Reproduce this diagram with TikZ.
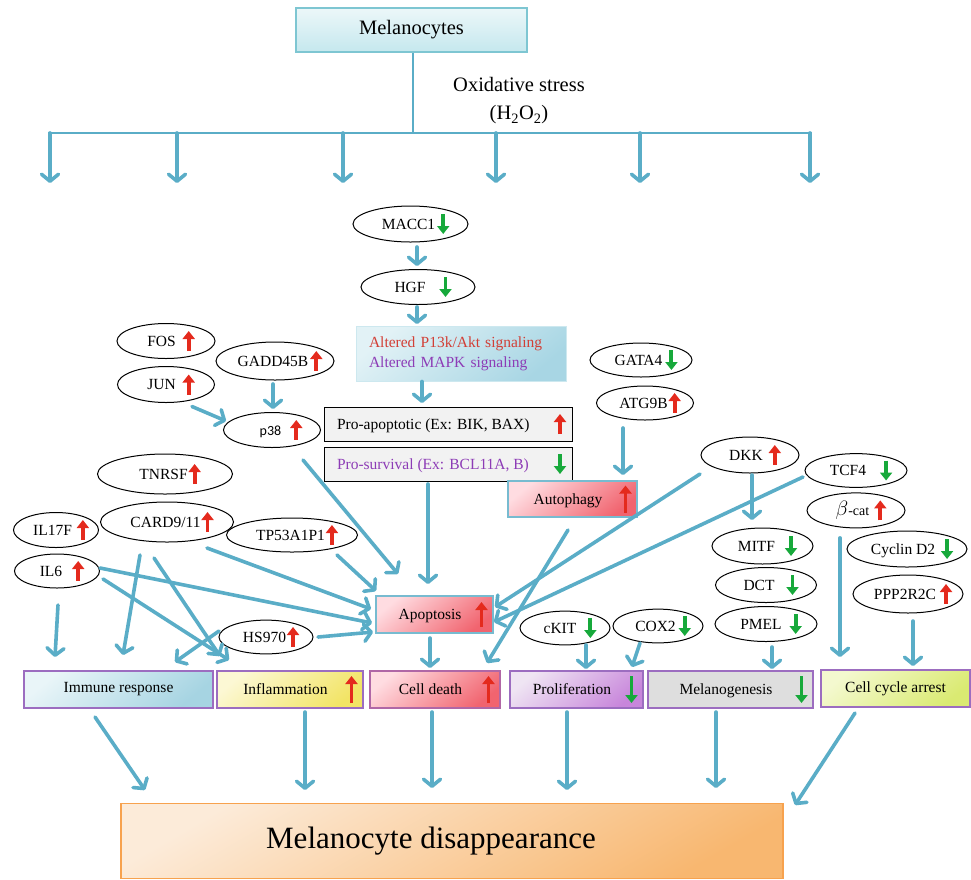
\documentclass[tikz,border=0pt]{standalone}
\usepackage{fontspec}
\setmainfont{Liberation Serif}
\newfontfamily\pthreefont{Carlito}
\usepackage{tikz}
\usetikzlibrary{arrows.meta, positioning, shapes.geometric, calc}
\definecolor{arrblue}{HTML}{5AADC7}
\definecolor{upred}{HTML}{E42A1D}
\definecolor{dngreen}{HTML}{17A93B}
\definecolor{boxpurple}{HTML}{9C6DC0}
\definecolor{txtred}{HTML}{D23F36}
\definecolor{txtpurple}{HTML}{8D3CB6}
\definecolor{cyanA}{HTML}{ECF7F9}
\definecolor{cyanB}{HTML}{C5E8EE}
\definecolor{cyanline}{HTML}{7EC6D2}
\definecolor{sigA}{HTML}{E2F2F6}
\definecolor{sigB}{HTML}{A8D6E4}
\definecolor{sigline}{HTML}{CDE8EF}
\definecolor{profill}{HTML}{F2F2F2}
\definecolor{pinkA}{HTML}{FFDCE1}
\definecolor{pinkB}{HTML}{F1646F}
\definecolor{apline}{HTML}{77BBD0}
\definecolor{cdline}{HTML}{B067A6}
\definecolor{immA}{HTML}{E9F5F8}
\definecolor{immB}{HTML}{A6D4E2}
\definecolor{inflA}{HTML}{FCF8D4}
\definecolor{inflB}{HTML}{F2E465}
\definecolor{prolA}{HTML}{EFE5F3}
\definecolor{prolB}{HTML}{C886DB}
\definecolor{melgrey}{HTML}{DEDEDE}
\definecolor{ccaA}{HTML}{F4F9CF}
\definecolor{ccaB}{HTML}{DAEA72}
\definecolor{finA}{HTML}{FCEBD9}
\definecolor{finB}{HTML}{F8B770}
\definecolor{finline}{HTML}{F7A24E}

% small up / down markers
\newcommand{\redup}[1][20]{\tikz[baseline=0pt]\draw[upred, line width=3.9pt, -{Triangle[length=8pt, width=12pt]}] (0pt,{(5-#1/2)*1pt}) -- (0pt,{(5+#1/2)*1pt});}
\newcommand{\greendn}[1][20]{\tikz[baseline=0pt]\draw[dngreen, line width=3.9pt, -{Triangle[length=8pt, width=12pt]}] (0pt,{(5+#1/2)*1pt}) -- (0pt,{(5-#1/2)*1pt});}
\newcommand{\glab}[1]{\makebox[0pt]{\hspace{10pt}#1}}
\newcommand{\boxlbl}[3]{\makebox[#1][s]{\hspace{8pt}\hfill #2\hfill #3\hspace{5pt}}}

\begin{document}
\begin{tikzpicture}[x=1pt, y=-1pt,
  lbl/.style={font=\fontsize{15.5}{18}\selectfont},
  gene/.style={ellipse, draw, line width=1pt, inner sep=0pt, minimum width=#1, minimum height=35, lbl},
  probox/.style={rectangle, draw, line width=1pt, fill=profill, inner sep=0pt, minimum width=248, minimum height=34, lbl},
  redbox/.style={rectangle, line width=1.2pt, top color=pinkA, bottom color=pinkB, shading angle=40, inner sep=0pt, minimum height=37, lbl},
  outbox/.style={rectangle, draw=boxpurple, line width=1.2pt, inner sep=0pt, minimum height=37, lbl},
  arr/.style={arrblue, line width=3.6pt, line cap=round, -{Straight Barb[length=7pt, width=17pt, round]}},
  conn/.style={arrblue, line width=2.2pt},
]
  \useasboundingbox (0,0) rectangle (971,879);

  % top
  \node[draw=cyanline, line width=1.2pt, top color=cyanA, bottom color=cyanB, minimum width=231, minimum height=44, inner sep=0pt, font=\fontsize{20.5}{24}\selectfont] (mel) at (411.5,30) {Melanocytes};
  \node[font=\fontsize{20.5}{28}\selectfont, align=center] (stress) at (519,101) {Oxidative stress\\(H\textsubscript{2}O\textsubscript{2})};
  \coordinate (split) at (413,133);
  \coordinate (brL) at (48,133);
  \coordinate (brR) at (812,133);
  \draw[conn] (mel.south -| split) -- (split);
  \draw[conn] (brL) -- (brR);
  \foreach \x [count=\i] in {50,177,343,496,640,810} {
    \coordinate (br\i) at (\x,133);
    \coordinate (tip\i) at (\x,183);
    \draw[arr] (br\i) -- (tip\i);
  }

  % signaling column
  \node[gene=115, minimum height=36] (macc1) at (410.5,224) {\glab{MACC1\hspace{2pt}\greendn}};
  \node[gene=114] (hgf) at (418,287) {\glab{HGF\hspace{14pt}\greendn}};
  \node[rectangle, draw=sigline, line width=0.8pt, top color=sigA, bottom color=sigB, shading angle=40, minimum width=210, minimum height=55, text width=184pt, inner xsep=13pt, inner ysep=0pt, align=left, font=\fontsize{15.5}{20}\selectfont] (sig) at (461,353.5) {{\color{txtred}Altered P13k/Akt signaling}\\{\color{txtpurple}Altered MAPK signaling}};
  \node[probox] (proapo) at (448,424) {\makebox[248pt][s]{\hspace{13pt}Pro-apoptotic (Ex: BIK, BAX)\hfill\redup\hspace{6pt}}};
  \node[probox, below=5pt of proapo] (prosurv) {\makebox[248pt][s]{\hspace{13pt}{\color{txtpurple}Pro-survival (Ex: BCL11A, B)}\hfill\greendn\hspace{6pt}}};

  % left genes
  \node[gene=98] (fos) at (166,341) {\glab{FOS\hspace{7pt}\redup}};
  \node[gene=97, minimum height=36, below=7pt of fos] (jun) {\glab{JUN\hspace{7pt}\redup}};
  \node[gene=118, minimum height=38] (gadd) at (275,361) {\glab{GADD45B\hspace{2pt}\redup}};
  \node[gene=97] (p38) at (272,430) {\glab{\hspace{8pt}{\pthreefont\fontsize{14}{16}\selectfont p38}\hspace{9pt}\redup}};
  \node[gene=135, minimum height=40] (tnrsf) at (165,474) {\glab{TNRSF\hspace{1pt}\redup}};
  \node[gene=133, minimum height=40] (card) at (167,522) {\glab{CARD9/11\hspace{1pt}\redup}};
  \node[gene=85] (il17f) at (56,530) {\glab{IL17F\hspace{5pt}\redup}};
  \node[gene=85, minimum height=34] (il6) at (57,571) {\glab{IL6\hspace{10pt}\redup}};
  \node[gene=131, minimum height=34] (tp53) at (292,535) {\glab{TP53A1P1\hspace{1pt}\redup}};
  \node[gene=94, minimum height=32] (hs970) at (266,637) {\glab{HS970\hspace{1pt}\redup}};

  % right genes
  \node[gene=102, minimum height=34] (gata4) at (641,360) {\glab{GATA4\hspace{3pt}\greendn}};
  \node[gene=97, minimum height=34] (atg9b) at (645,403) {\glab{ATG9B\hspace{1pt}\redup}};
  \node[gene=98, minimum height=36] (dkk) at (750,455) {\glab{DKK\hspace{6pt}\redup}};
  \node[gene=102, minimum height=30] (tcf4) at (856,470.5) {\glab{TCF4\hspace{14pt}\greendn}};
  \node[gene=98, below=4.5pt of tcf4] (bcat) {\glab{{\fontsize{22}{22}\selectfont$\beta$}{\fontsize{14}{16}\selectfont -cat}\hspace{5pt}\redup}};
  \node[gene=101, minimum height=36] (mitf) at (762.5,546) {\glab{MITF\hspace{10pt}\greendn}};
  \node[gene=101, below=2.5pt of mitf, xshift=3.5pt] (dct) {\glab{DCT\hspace{12pt}\greendn}};
  \node[gene=102, below=3pt of dct] (pmel) {\glab{PMEL\hspace{8pt}\greendn}};
  \node[gene=120, minimum height=36] (cycd2) at (907,549) {\glab{Cyclin D2\hspace{6pt}\greendn}};
  \node[gene=110, minimum height=38] (ppp) at (908,594) {\glab{PPP2R2C\hspace{4pt}\redup}};
  \node[gene=90, minimum height=30] (ckit) at (565,628) {\glab{cKIT\hspace{8pt}\greendn}};
  \node[gene=90, minimum height=32] (cox2) at (658,626) {\glab{COX2\hspace{3pt}\greendn}};

  % process boxes
  \node[redbox, draw=apline, minimum width=117] (apop) at (434.5,614.5) {\boxlbl{116pt}{Apoptosis}{\redup[25]}};
  \node[redbox, draw=apline, minimum width=129, minimum height=36] (autoph) at (572.5,499) {\boxlbl{128pt}{Autophagy}{\redup[27]}};
  \node[outbox, top color=immA, bottom color=immB, shading angle=40, minimum width=189] (immune) at (118.5,689.5) {Immune response};
  \node[outbox, top color=inflA, bottom color=inflB, shading angle=40, minimum width=146] (infl) at (290,689.5) {\boxlbl{145pt}{Inflammation}{\redup[27]}};
  \node[redbox, draw=cdline, minimum width=130] (celld) at (435,689.5) {\boxlbl{129pt}{Cell death}{\redup[27]}};
  \node[outbox, top color=prolA, bottom color=prolB, shading angle=40, minimum width=133] (prolif) at (576.5,689.5) {\boxlbl{132pt}{Proliferation}{\greendn[27]}};
  \node[outbox, fill=melgrey, minimum width=165] (melgen) at (730.5,689.5) {\boxlbl{164pt}{Melanogenesis}{\greendn[27]}};
  \node[outbox, top color=ccaA, bottom color=ccaB, shading angle=40, minimum width=149] (cca) at (895.5,688.5) {Cell cycle arrest};
  \node[rectangle, draw=finline, line width=1.2pt, top color=finA, bottom color=finB, shading angle=30, minimum width=662, minimum height=75, inner sep=0pt, font=\fontsize{31}{36}\selectfont] (final) at (452,841) {\makebox[0pt]{\hspace{-42pt}Melanocyte disappearance}};

  % connectors
  \draw[arr] ($(macc1)+(6.5,23)$) -- ($(hgf)+(-1,-21)$);
  \draw[arr] ($(hgf)+(-1,20)$) -- ($(sig)+(-44,-29.5)$);
  \draw[arr] ($(sig)+(-39,28)$) -- ($(proapo)+(-26,-21)$);
  \draw[arr] ($(gadd)+(-2,23)$) -- ($(p38)+(1,-21)$);
  \draw[arr] ($(jun)+(26,22)$) -- ($(p38)+(-46,-9)$);
  \draw[arr] ($(p38)+(31,30)$) -- ($(apop)+(-36.5,-40.5)$);
  \draw[arr] ($(prosurv)+(-20,20)$) -- ($(apop)+(-6.5,-30.5)$);
  \draw[arr] ($(tp53)+(45,20)$) -- ($(apop)+(-58.5,-23.5)$);
  \draw[arr] ($(card)+(40,26)$) -- ($(apop)+(-63.5,-5.5)$);
  \draw[arr] ($(il6)+(43,-3)$) -- ($(apop)+(-62.5,8.5)$);
  \draw[arr] ($(hs970)+(52,0)$) -- ($(apop)+(-61.5,17.5)$);
  \draw[arr] ($(il6)+(46,8)$) -- ($(infl)+(-61,-29.5)$);
  \draw[arr] ($(card)+(-13,36)$) -- ($(infl)+(-70,-33.5)$);
  \draw[arr] ($(card)+(-27,33)$) -- ($(immune)+(4.5,-34.5)$);
  \draw[arr] ($(hs970)+(-47,-6)$) -- ($(immune)+(56.5,-27.5)$);
  \draw[arr] ($(il6)+(1,34)$) -- ($(immune)+(-63.5,-32.5)$);
  \draw[arr] ($(apop)+(-4.5,23.5)$) -- ($(celld)+(-5,-21.5)$);
  \draw[arr] ($(autoph)+(-4.5,31)$) -- ($(celld)+(52,-26.5)$);
  \draw[arr] ($(dkk)+(-50,19)$) -- ($(apop)+(60.5,-7.5)$);
  \draw[arr] ($(tcf4)+(-53,6.5)$) -- ($(apop)+(59.5,7.5)$);
  \draw[arr] ($(dkk)+(2,20)$) -- ($(mitf)+(-10.5,-26)$);
  \draw[arr] ($(atg9b)+(-22,25)$) -- ($(autoph)+(50.5,-24)$);
  \draw[arr] ($(bcat)+(-16,27.5)$) -- ($(cca)+(-55.5,-31.5)$);
  \draw[arr] ($(ppp)+(5,27)$) -- ($(cca)+(17.5,-22.5)$);
  \draw[arr] ($(ckit)+(21,17)$) -- ($(prolif)+(9.5,-20.5)$);
  \draw[arr] ($(cox2)+(-18,17)$) -- ($(prolif)+(55.5,-22.5)$);
  \draw[arr] ($(pmel)+(6,23)$) -- ($(melgen)+(41.5,-20.5)$);

  \draw[arr] ($(immune)+(-23.5,27.5)$) -- ($(final)+(-307,-51)$);
  \draw[arr] ($(infl)+(15,22.5)$) -- ($(final)+(-147,-51)$);
  \draw[arr] ($(celld)+(-3,22.5)$) -- ($(final)+(-20,-53)$);
  \draw[arr] ($(prolif)+(-9.5,22.5)$) -- ($(final)+(115,-51)$);
  \draw[arr] ($(melgen)+(-14.5,22.5)$) -- ($(final)+(264,-53)$);
  \draw[arr] ($(cca)+(-40.5,24.5)$) -- ($(final)+(343,-36)$);
\end{tikzpicture}
\end{document}
